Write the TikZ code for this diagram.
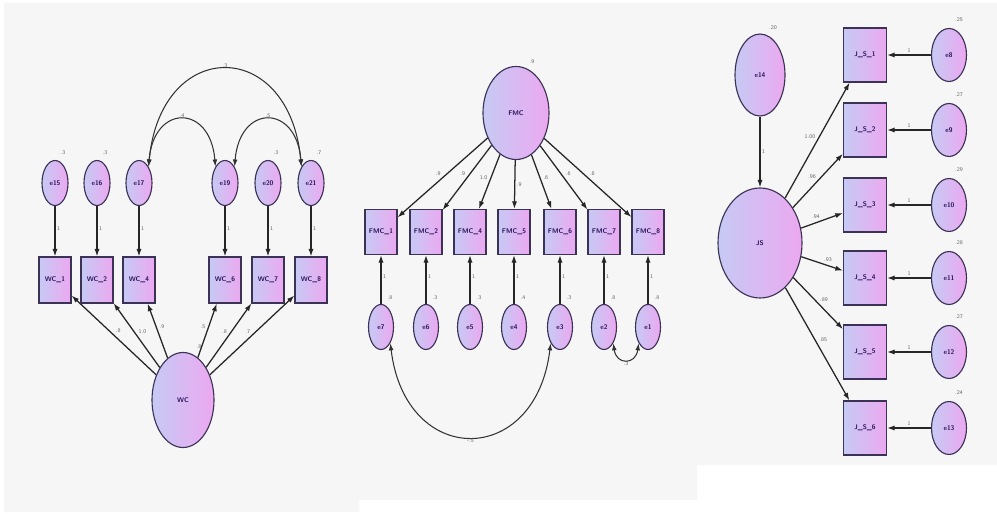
\documentclass[tikz,border=0pt]{standalone}
\usetikzlibrary{shapes.geometric,arrows.meta}
\definecolor{bgray}{RGB}{246,246,246}
\definecolor{lblue}{RGB}{198,202,244}
\definecolor{lpink}{RGB}{236,168,240}
\definecolor{rim}{RGB}{60,50,85}
\definecolor{ink}{RGB}{40,20,90}
\tikzset{
  sem/.style={draw=rim, line width=0.8pt, left color=lblue, right color=lpink,
    inner sep=0pt, text=ink, font=\fontsize{4.8}{5}\selectfont\sffamily\bfseries},
  unob/.style={sem, ellipse},
  obs/.style={sem, rectangle},
  err/.style={unob, minimum width=6.5mm, minimum height=11.25mm},
  reg/.style={draw=black!85, line width=0.9pt, -{Latex[length=1.9mm,width=1.3mm]}},
  cov/.style={draw=black!80, line width=0.75pt,
    {Latex[length=1.8mm,width=1.2mm]}-{Latex[length=1.8mm,width=1.2mm]}},
  est/.style={font=\fontsize{4}{4}\selectfont\sffamily, text=black!60, inner sep=1pt}
}

\begin{document}
\begin{tikzpicture}[x=0.25mm, y=-0.25mm]
  \useasboundingbox (0,0) rectangle (997,514);
  \fill[white] (0,0) rectangle (997,514);
  \fill[bgray] (4,3) rectangle (997,465) (4,465) rectangle (697,500)
    (4,500) rectangle (359,512);

  \node[unob, minimum width=15.5mm, minimum height=23.75mm] (WC) at (183,400) {WC};
  \node[est] (vWC) at (199,347) {.8};
  \foreach \n/\x/\k/\w/\an in {15/55/1/.8/south west, 16/97/2/1.0/south west,
      17/139/4/.9/south west, 19/225/6/.5/south east, 20/268/7/.8/south east,
      21/311/8/.7/south east}{
    \node[err] (e\n) at (\x,183) {e\n};
    \node[obs, minimum width=8mm, minimum height=11.5mm] (wc\k) at (\x,280) {WC\_\k};
    \draw[reg] (e\n) -- node[est, anchor=west, pos=.45] {1} (wc\k);
    \draw[reg] (WC) -- node[est, anchor=\an, pos=.5] {\w} (wc\k);
  }
  \foreach \n/\vr in {15/.3, 16/.3, 20/.3, 21/.7}
    \node[est] (v\n) at ([shift={(8,-30)}]e\n.center) {\vr};
  \draw[cov] (e17.north east) .. controls +(12,-130) and +(-12,-130) .. (e21.north west)
    node[est, midway, above] {.3};
  \draw[cov] (e17.north east) .. controls +(5,-63) and +(-5,-63) .. (e19.north west)
    node[est, midway, above] {.4};
  \draw[cov] (e19.north east) .. controls +(5,-63) and +(-5,-63) .. (e21.north west)
    node[est, midway, above] {.5};

  \node[unob, minimum width=16.5mm, minimum height=23.25mm] (FMC) at (516,113) {FMC};
  \node[est] (vFMC) at (532,62) {.9};
  \foreach \n/\x/\k/\w/\an/\vr in {7/381/1/.9/south east/.8, 6/426/2/.9/south east/.3,
      5/470/4/1.0/south east/.3, 4/514/5/.9/west/.4, 3/560/6/.6/south west/.3,
      2/604/7/.6/south west/.8, 1/648/8/.8/south west/.8}{
    \node[obs, minimum width=8mm, minimum height=11.25mm] (fmc\k) at (\x,232) {FMC\_\k};
    \node[err, minimum width=6.25mm] (e\n) at (\x,327) {e\n};
    \draw[reg] (e\n) -- node[est, anchor=west, pos=.55] {1} (fmc\k);
    \draw[reg] (FMC) -- node[est, anchor=\an, pos=.5] {\w} (fmc\k);
    \node[est] (v\n) at (\x+9,298) {\vr};
  }
  \draw[cov] (e7.-60) .. controls +(15,125) and +(-15,125) .. (e3.240)
    node[est, midway, below] {-.5};
  \draw[cov] (e2.-60) .. controls +(3,22) and +(-3,22) .. (e1.240)
    node[est, midway, below] {.3};

  \node[unob, minimum width=12.5mm, minimum height=20.5mm] (e14) at (760,75) {e14};
  \node[unob, minimum width=21mm, minimum height=27.5mm] (JS) at (760,243) {JS};
  \node[est] (v14) at (773,28) {.20};
  \draw[reg] (e14) -- node[est, anchor=west] {1} (JS);
  \foreach \n/\k/\y/\w/\an/\vr in {8/1/55/1.00/south east/.25, 9/2/130/.96/south east/.27,
      10/3/205/.94/south east/.29, 11/4/278/.93/south west/.28,
      12/5/352/.89/south west/.27, 13/6/428/.85/south west/.24}{
    \node[obs, minimum width=10.75mm, minimum height=13.5mm] (js\k) at (865,\y) {J\_S\_\k};
    \node[unob, minimum width=8.75mm, minimum height=13.25mm] (e\n) at (949,\y) {e\n};
    \draw[reg] (e\n) -- node[est, above] {1} (js\k);
    \draw[reg] (JS) -- node[est, anchor=\an, pos=.5] {\w} (js\k);
    \node[est] (v\n) at (959,\y-35) {\vr};
  }
\end{tikzpicture}
\end{document}
